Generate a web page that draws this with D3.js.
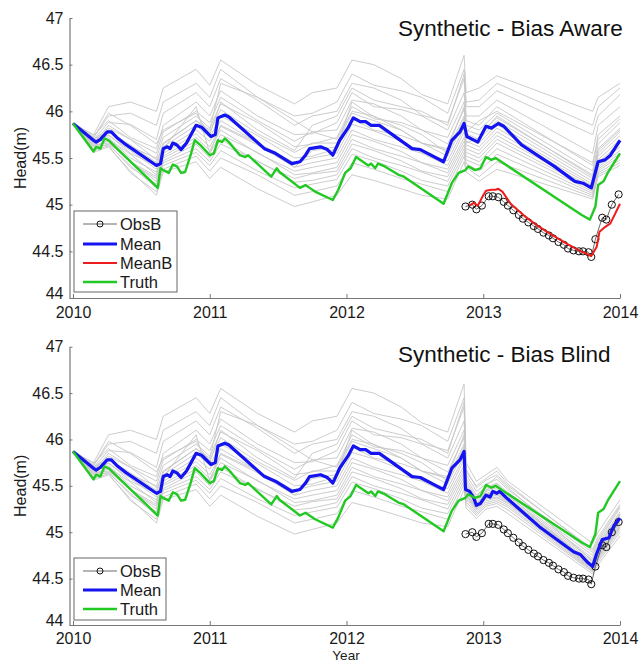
<!DOCTYPE html>
<html><head><meta charset="utf-8">
<script src="https://cdn.jsdelivr.net/npm/d3@7"></script>
<style>body{margin:0;background:#fff}svg{display:block;font-family:"Liberation Sans",Arial,sans-serif}</style>
</head><body><svg id="c" width="640" height="663"></svg>
<script>
// ---------- data ----------
const xTicks = [2010, 2011, 2012, 2013, 2014];
const yTicks = [44, 44.5, 45, 45.5, 46, 46.5, 47];
const yTickLabels = ["44", "44.5", "45", "45.5", "46", "46.5", "47"];
const titles = ["Synthetic - Bias Aware", "Synthetic - Bias Blind"];

const truth = [[2010.00,45.87],[2010.15,45.57],[2010.17,45.62],[2010.20,45.60],[2010.23,45.71],[2010.26,45.69],[2010.62,45.18],[2010.64,45.39],[2010.66,45.37],[2010.70,45.34],[2010.73,45.43],[2010.76,45.41],[2010.79,45.34],[2010.82,45.35],[2010.86,45.53],[2010.89,45.69],[2010.93,45.64],[2011.00,45.53],[2011.03,45.55],[2011.06,45.69],[2011.09,45.67],[2011.11,45.71],[2011.14,45.67],[2011.22,45.53],[2011.26,45.51],[2011.28,45.53],[2011.45,45.30],[2011.49,45.39],[2011.51,45.35],[2011.66,45.18],[2011.70,45.21],[2011.73,45.18],[2011.77,45.14],[2011.90,45.05],[2011.94,45.16],[2011.99,45.34],[2012.03,45.39],[2012.07,45.51],[2012.12,45.46],[2012.16,45.42],[2012.18,45.44],[2012.21,45.39],[2012.23,45.44],[2012.28,45.41],[2012.38,45.32],[2012.42,45.30],[2012.71,45.01],[2012.77,45.23],[2012.82,45.34],[2012.87,45.37],[2012.89,45.41],[2012.94,45.37],[2012.98,45.39],[2013.02,45.51],[2013.06,45.48],[2013.09,45.50],[2013.72,44.89],[2013.78,44.84],[2013.82,44.98],[2013.84,45.21],[2013.88,45.25],[2013.91,45.34],[2014.00,45.55]];

const meanPre = [[2010.00,45.87],[2010.15,45.69],[2010.17,45.67],[2010.20,45.70],[2010.25,45.78],[2010.28,45.78],[2010.32,45.72],[2010.39,45.64],[2010.61,45.42],[2010.64,45.44],[2010.66,45.60],[2010.69,45.62],[2010.71,45.60],[2010.73,45.66],[2010.76,45.64],[2010.79,45.59],[2010.83,45.66],[2010.90,45.85],[2010.94,45.83],[2011.01,45.73],[2011.04,45.75],[2011.06,45.93],[2011.11,45.96],[2011.14,45.94],[2011.40,45.60],[2011.48,45.55],[2011.60,45.44],[2011.66,45.46],[2011.70,45.53],[2011.73,45.60],[2011.81,45.62],[2011.86,45.59],[2011.90,45.53],[2011.95,45.69],[2012.01,45.82],[2012.05,45.93],[2012.10,45.89],[2012.14,45.89],[2012.18,45.85],[2012.24,45.85],[2012.48,45.60],[2012.54,45.59],[2012.71,45.46],[2012.77,45.69],[2012.83,45.78],[2012.86,45.87]];
const meanTopPost = [[2012.88,45.73],[2012.96,45.67],[2013.02,45.84],[2013.06,45.82],[2013.11,45.87],[2013.15,45.84],[2013.28,45.64],[2013.52,45.41],[2013.67,45.25],[2013.73,45.23],[2013.79,45.18],[2013.84,45.46],[2013.89,45.48],[2013.93,45.53],[2014.00,45.69]];
const meanBotPost = [[2012.87,45.46],[2012.90,45.44],[2012.93,45.37],[2012.95,45.29],[2012.98,45.31],[2013.02,45.40],[2013.05,45.38],[2013.07,45.44],[2013.10,45.42],[2013.12,45.44],[2013.17,45.37],[2013.41,45.06],[2013.66,44.79],[2013.71,44.76],[2013.76,44.68],[2013.80,44.63],[2013.83,44.77],[2013.87,44.92],[2013.92,44.94],[2013.94,45.02],[2013.96,45.08],[2014.00,45.15]];

const obsB = [[2012.87,44.98],[2012.92,45.00],[2012.95,44.95],[2012.99,44.99],[2013.04,45.09],[2013.07,45.09],[2013.11,45.08],[2013.15,45.03],[2013.18,44.99],[2013.22,44.94],[2013.26,44.89],[2013.29,44.85],[2013.33,44.81],[2013.37,44.77],[2013.40,44.74],[2013.44,44.70],[2013.48,44.67],[2013.51,44.64],[2013.55,44.60],[2013.59,44.57],[2013.62,44.53],[2013.66,44.51],[2013.70,44.50],[2013.73,44.50],[2013.77,44.49],[2013.79,44.44],[2013.82,44.63],[2013.87,44.86],[2013.90,44.84],[2013.94,45.00],[2013.99,45.11]];

const meanB = [[2012.90,44.99],[2012.93,45.02],[2012.96,44.99],[2013.00,45.10],[2013.02,45.15],[2013.06,45.16],[2013.09,45.16],[2013.11,45.17],[2013.14,45.14],[2013.20,45.01],[2013.30,44.88],[2013.40,44.77],[2013.50,44.68],[2013.60,44.59],[2013.70,44.51],[2013.79,44.45],[2013.83,44.55],[2013.85,44.71],[2013.89,44.76],[2013.93,44.80],[2014.00,45.01]];

// ensemble members (gray)
const ensPreTimes = [2010.00,2010.15,2010.26,2010.42,2010.61,2010.66,2010.90,2011.00,2011.08,2011.35,2011.62,2011.75,2011.93,2012.04,2012.20,2012.40,2012.55,2012.74,2012.86];
const ensTopPostTimes = [2012.875,2012.97,2013.10,2013.80,2013.84,2014.00];
const ensBotPostTimes = [2012.875,2012.95,2013.02,2013.10,2013.18,2013.80,2013.84,2014.00];
const ensPre = [
 [45.87,45.75,46.05,46.10,46.00,46.25,46.45,46.28,46.55,46.28,46.08,46.20,46.25,46.55,46.50,46.35,46.18,46.08,46.60],
 [45.87,45.72,45.95,45.98,45.85,46.10,46.30,46.15,46.45,46.15,45.95,45.98,46.10,46.40,46.28,46.22,46.15,45.98,46.45],
 [45.87,45.70,45.88,45.86,45.70,45.98,46.20,46.05,46.35,46.12,45.85,45.95,46.00,46.30,46.25,46.12,45.96,45.88,46.35],
 [45.87,45.74,45.90,45.72,45.60,45.85,46.10,45.95,46.22,45.95,45.75,45.76,45.88,46.20,46.05,46.02,45.95,45.80,46.20],
 [45.87,45.70,45.82,45.70,45.55,45.78,46.00,45.88,46.15,45.90,45.68,45.78,45.80,46.12,46.08,45.95,45.80,45.72,46.10],
 [45.87,45.68,45.80,45.62,45.50,45.72,45.95,45.82,46.08,45.88,45.62,45.65,45.72,46.05,45.92,45.88,45.80,45.65,46.02],
 [45.87,45.70,45.78,45.64,45.45,45.66,45.90,45.78,46.02,45.76,45.56,45.66,45.66,45.98,45.90,45.80,45.66,45.58,45.95],
 [45.87,45.66,45.75,45.55,45.42,45.62,45.85,45.72,45.95,45.74,45.50,45.52,45.60,45.92,45.80,45.74,45.66,45.52,45.88],
 [45.87,45.68,45.74,45.58,45.38,45.58,45.80,45.68,45.90,45.66,45.45,45.50,45.55,45.86,45.79,45.68,45.56,45.47,45.82],
 [45.87,45.65,45.72,45.50,45.35,45.55,45.76,45.62,45.84,45.64,45.40,45.45,45.50,45.80,45.70,45.62,45.55,45.42,45.78],
 [45.87,45.67,45.70,45.54,45.32,45.52,45.72,45.58,45.80,45.55,45.36,45.40,45.45,45.75,45.68,45.57,45.45,45.38,45.72],
 [45.87,45.63,45.68,45.45,45.28,45.50,45.68,45.55,45.75,45.56,45.32,45.34,45.40,45.70,45.60,45.52,45.45,45.34,45.68],
 [45.87,45.64,45.66,45.46,45.25,45.47,45.65,45.50,45.70,45.46,45.28,45.33,45.36,45.65,45.58,45.47,45.36,45.30,45.64],
 [45.87,45.60,45.65,45.40,45.22,45.45,45.60,45.46,45.65,45.47,45.24,45.26,45.32,45.60,45.50,45.42,45.35,45.25,45.60],
 [45.87,45.62,45.64,45.42,45.18,45.42,45.56,45.42,45.58,45.36,45.18,45.22,45.27,45.54,45.47,45.36,45.26,45.20,45.56],
 [45.87,45.58,45.63,45.34,45.14,45.38,45.52,45.36,45.50,45.32,45.10,45.14,45.20,45.45,45.38,45.28,45.22,45.14,45.52],
 [45.87,45.56,45.62,45.36,45.10,45.35,45.46,45.28,45.40,45.17,44.98,45.03,45.10,45.32,45.26,45.17,45.10,45.06,45.46],
 [45.87,45.72,45.98,45.85,45.65,45.80,45.98,45.75,46.10,45.80,45.58,45.85,45.95,46.25,46.12,46.05,46.00,45.85,46.40],
 [45.87,45.60,45.70,45.46,45.30,45.65,45.90,45.80,46.30,46.15,45.90,45.78,45.70,46.00,45.95,45.80,45.66,45.60,46.05],
 [45.87,45.66,45.85,45.70,45.48,45.60,46.05,45.55,45.85,45.66,45.40,45.58,45.62,46.10,45.94,45.85,45.75,45.55,45.92]];
const ensTopPost = [
 [46.20,46.25,46.38,46.00,46.15,46.30],[46.05,46.05,46.22,45.75,45.95,46.18],[45.95,45.95,46.12,45.55,45.85,46.05],
 [45.90,45.85,46.05,45.42,45.75,45.95],[45.85,45.80,45.98,45.36,45.65,45.88],[45.80,45.75,45.93,45.32,45.60,45.82],
 [45.76,45.70,45.90,45.28,45.55,45.78],[45.72,45.66,45.86,45.25,45.52,45.74],[45.68,45.62,45.82,45.22,45.48,45.70],
 [45.64,45.58,45.78,45.20,45.45,45.66],[45.60,45.54,45.74,45.18,45.42,45.62],[45.56,45.50,45.70,45.16,45.40,45.58],
 [45.52,45.46,45.66,45.14,45.38,45.55],[45.48,45.42,45.60,45.12,45.36,45.52],[45.44,45.36,45.54,45.10,45.34,45.48],
 [45.40,45.30,45.46,45.08,45.32,45.45],[45.35,45.25,45.38,45.06,45.30,45.42],[46.10,46.12,46.30,45.85,46.05,46.25],
 [45.78,45.90,46.00,45.45,45.70,45.92],[45.66,45.72,45.95,45.30,45.58,45.80]];
const ensBotPost = [
 [45.75,45.55,45.62,45.70,45.55,44.88,45.00,45.35],[45.68,45.48,45.56,45.62,45.50,44.82,44.95,45.30],
 [45.62,45.44,45.52,45.57,45.46,44.78,44.90,45.26],[45.58,45.40,45.48,45.53,45.43,44.75,44.88,45.22],
 [45.55,45.37,45.46,45.50,45.41,44.72,44.86,45.20],[45.52,45.35,45.44,45.48,45.39,44.70,44.84,45.18],
 [45.50,45.33,45.42,45.46,45.37,44.68,44.82,45.16],[45.48,45.31,45.41,45.44,45.36,44.66,44.80,45.14],
 [45.46,45.30,45.40,45.42,45.35,44.65,44.79,45.13],[45.44,45.28,45.38,45.41,45.34,44.63,44.77,45.11],
 [45.42,45.27,45.37,45.40,45.33,44.62,44.76,45.10],[45.40,45.25,45.36,45.38,45.32,44.61,44.74,45.08],
 [45.38,45.24,45.34,45.37,45.31,44.60,44.73,45.06],[45.36,45.22,45.32,45.35,45.29,44.59,44.72,45.05],
 [45.33,45.20,45.30,45.33,45.27,44.58,44.70,45.03],[45.30,45.18,45.28,45.31,45.24,44.57,44.68,45.00],
 [45.26,45.15,45.25,45.28,45.20,44.55,44.65,44.96],[45.65,45.50,45.58,45.66,45.52,44.80,44.92,45.28],
 [45.47,45.38,45.50,45.60,45.48,44.69,44.83,45.19],[45.41,45.26,45.45,45.52,45.40,44.64,44.80,45.12]];

// ---------- drawing ----------
const svg = d3.select("#c");
const C = {blue:"#1414f0", green:"#22c922", red:"#ee1c1c", gray:"#c6c6c6", axis:"#777", text:"#1a1a1a"};

const x = d3.scaleLinear().domain([2009.9744, 2014]).range([69.5, 620]);

const panels = [
  {top:18, bottom:298, title:titles[0], titleY:35.5, meanPost:meanTopPost, ensPostTimes:ensTopPostTimes, ensPost:ensTopPost, showMeanB:true,
   legend:{x:74, y:211, w:103, h:81, rows:[224,244,263,282]}, xlabelY:318},
  {top:346.7, bottom:625, title:titles[1], titleY:362, meanPost:meanBotPost, ensPostTimes:ensBotPostTimes, ensPost:ensBotPost, showMeanB:false,
   legend:{x:74, y:558, w:92, h:62, rows:[571,590,609]}, xlabelY:644}
];

panels.forEach((p) => {
  const y = d3.scaleLinear().domain([44, 47]).range([p.bottom, p.top]);
  const line = d3.line().x(d => x(d[0])).y(d => y(d[1]));
  const g = svg.append("g");

  // ensemble
  ensPre.forEach((m, i) => {
    const pts = ensPreTimes.map((t, k) => [t, m[k]])
      .concat(p.ensPostTimes.map((t, k) => [t, p.ensPost[i][k]]));
    g.append("path").attr("d", line(pts)).attr("fill", "none")
      .attr("stroke", C.gray).attr("stroke-width", 0.9);
  });

  // ObsB
  g.append("path").attr("d", line(obsB)).attr("fill", "none").attr("stroke", "#444").attr("stroke-width", 0.8);
  g.selectAll(null).data(obsB).enter().append("circle")
    .attr("cx", d => x(d[0])).attr("cy", d => y(d[1])).attr("r", 3.6)
    .attr("fill", "none").attr("stroke", "#111").attr("stroke-width", 1);

  // Mean
  g.append("path").attr("d", line(meanPre.concat(p.meanPost))).attr("fill", "none")
    .attr("stroke", C.blue).attr("stroke-width", 3.2).attr("stroke-linejoin", "round");
  if (p.showMeanB) {
    g.append("path").attr("d", line(meanB)).attr("fill", "none")
      .attr("stroke", C.red).attr("stroke-width", 2).attr("stroke-linejoin", "round");
  }
  // Truth
  g.append("path").attr("d", line(truth)).attr("fill", "none")
    .attr("stroke", C.green).attr("stroke-width", 2.4).attr("stroke-linejoin", "round");

  // axes
  const ya = d3.axisLeft(y).tickValues(yTicks).tickFormat((d, i) => yTickLabels[i]).tickSizeInner(-3).tickSizeOuter(0).tickPadding(6);
  const yg = svg.append("g").attr("transform", "translate(69.5,0)").call(ya);
  const xa = d3.axisBottom(x).tickValues(xTicks).tickFormat(d3.format("d")).tickSizeInner(-4).tickSizeOuter(0).tickPadding(8);
  const xg = svg.append("g").attr("transform", `translate(0,${p.bottom})`).call(xa);
  [yg, xg].forEach(a => {
    a.select(".domain").attr("stroke", C.axis).attr("stroke-width", 1.2);
    a.selectAll(".tick line").attr("stroke", C.axis);
    a.selectAll("text").attr("fill", C.text).attr("font-size", 16)
      .attr("font-family", '"Liberation Sans", Arial, sans-serif');
  });
  xg.selectAll("text").attr("y", p.xlabelY - p.bottom).attr("dy", 0);
  // lift the lowest y label slightly so it clears the first year label
  yg.selectAll(".tick").filter(d => d === 44).select("text").attr("y", -4.5);

  // y label
  svg.append("text").attr("transform", `translate(26,${(p.top + p.bottom) / 2}) rotate(-90)`)
    .attr("text-anchor", "middle").attr("font-size", 16).attr("fill", C.text).text("Head(m)");

  // title
  svg.append("text").attr("x", 398).attr("y", p.titleY)
    .attr("font-size", 22.5).attr("fill", "#111").text(p.title);

  // legend
  const L = p.legend;
  const lg = svg.append("g");
  lg.append("rect").attr("x", L.x).attr("y", L.y).attr("width", L.w).attr("height", L.h)
    .attr("fill", "#fff").attr("stroke", "#666").attr("stroke-width", 1);
  const items = p.showMeanB
    ? [["ObsB","obs"],["Mean",C.blue,3.2],["MeanB",C.red,2],["Truth",C.green,2.4]]
    : [["ObsB","obs"],["Mean",C.blue,3.2],["Truth",C.green,2.4]];
  items.forEach((it, i) => {
    const yy = L.rows[i];
    if (it[1] === "obs") {
      lg.append("line").attr("x1", 83).attr("x2", 117).attr("y1", yy).attr("y2", yy).attr("stroke", "#444").attr("stroke-width", 0.8);
      lg.append("circle").attr("cx", 100).attr("cy", yy).attr("r", 3).attr("fill", "none").attr("stroke", "#111");
    } else {
      lg.append("line").attr("x1", 83).attr("x2", 117).attr("y1", yy).attr("y2", yy).attr("stroke", it[1]).attr("stroke-width", it[2]);
    }
    lg.append("text").attr("x", 120).attr("y", yy + 6).attr("font-size", 16.5).attr("fill", C.text).text(it[0]);
  });
});

svg.append("text").attr("x", 346).attr("y", 660).attr("text-anchor", "middle")
  .attr("font-size", 13.5).attr("fill", C.text).text("Year");
</script></body></html>
